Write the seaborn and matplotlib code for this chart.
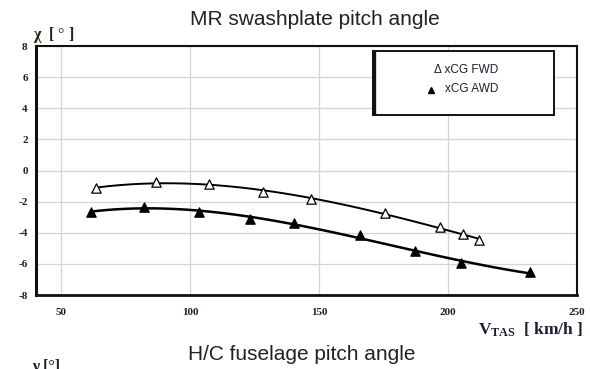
import numpy as np
import pandas as pd
import matplotlib
matplotlib.use("Agg")
import matplotlib.pyplot as plt
from matplotlib.patches import Rectangle
import seaborn as sns

# Swashplate pitch angle vs true airspeed, two CG positions
v_fwd = [63.6, 86.8, 107.5, 128.3, 147.0, 175.7, 196.9, 205.8, 212.0]
chi_fwd = [-1.15, -0.72, -0.89, -1.36, -1.83, -2.75, -3.65, -4.10, -4.45]
v_awd = [61.7, 82.2, 103.6, 123.2, 140.2, 166.0, 187.3, 204.9, 231.9]
chi_awd = [-2.65, -2.35, -2.65, -3.10, -3.40, -4.15, -5.20, -5.95, -6.55]
series_labels = ["\u0394 xCG FWD", "xCG AWD"]
x_ticks = [50, 100, 150, 200, 250]
y_ticks = [-8, -6, -4, -2, 0, 2, 4, 6, 8]

df_fwd = pd.DataFrame({"v": v_fwd, "chi": chi_fwd})
df_awd = pd.DataFrame({"v": v_awd, "chi": chi_awd})

sns.set_theme(style="white")
plt.rcParams["font.family"] = ["Liberation Sans", "DejaVu Sans"]
plt.rcParams["axes.unicode_minus"] = False
plt.rcParams["mathtext.fontset"] = "custom"
plt.rcParams["mathtext.rm"] = "Liberation Serif"
plt.rcParams["mathtext.bf"] = "Liberation Serif:bold"

fig = plt.figure(figsize=(5.9, 3.69), dpi=100)
ax = fig.add_axes([0.061, 0.2005, 0.917, 0.6748])

ink = "#1a1f33"

# Cubic trend curves through each series
sns.regplot(data=df_fwd, x="v", y="chi", order=3, ci=None, scatter=False,
            ax=ax, line_kws=dict(color="black", lw=1.4), truncate=True)
sns.regplot(data=df_awd, x="v", y="chi", order=3, ci=None, scatter=False,
            ax=ax, line_kws=dict(color="black", lw=1.8), truncate=True)

# Measured points
sns.scatterplot(data=df_fwd, x="v", y="chi", marker="^", s=45,
                facecolor="white", edgecolor="black", linewidth=0.9, ax=ax, zorder=4)
sns.scatterplot(data=df_awd, x="v", y="chi", marker="^", s=45,
                color="black", edgecolor="black", linewidth=0.9, ax=ax, zorder=4)

ax.set_xlim(40.3, 250)
ax.set_ylim(-8, 8)
ax.set_xticks(x_ticks)
ax.set_yticks(y_ticks)
ax.set_xlabel("")
ax.set_ylabel("")
ax.grid(True, color="#d4d4d4", lw=0.9)
ax.set_axisbelow(True)

for side, sp in ax.spines.items():
    sp.set_visible(True)
    sp.set_color("#111111")
    sp.set_linewidth(1.5)
ax.spines["left"].set_linewidth(2.2)
ax.spines["bottom"].set_linewidth(2.0)

ax.tick_params(axis="both", direction="out", length=3, width=1.0, color="#111111",
               labelsize=8, pad=6)
ax.tick_params(axis="y", pad=3)
for lab in ax.get_xticklabels() + ax.get_yticklabels():
    lab.set_fontfamily("Liberation Serif")
    lab.set_fontweight("bold")
    lab.set_color(ink)

# Legend box
ax.add_patch(Rectangle((0.622, 0.723), 0.3355, 0.257, transform=ax.transAxes,
                       facecolor="white", edgecolor="#111111", lw=1.4, zorder=5))
ax.plot([0.624, 0.624], [0.726, 0.977], transform=ax.transAxes, color="#111111",
        lw=2.4, zorder=6)
ax.text(0.854, 0.904, series_labels[0], transform=ax.transAxes, ha="right",
        va="center", fontsize=8.5, color=ink, zorder=6)
ax.text(0.854, 0.827, series_labels[1], transform=ax.transAxes, ha="right",
        va="center", fontsize=8.5, color=ink, zorder=6)
ax.plot([0.731], [0.822], transform=ax.transAxes, marker="^", ms=4.5,
        color="black", zorder=6)

# Titles and axis labels
fig.text(0.534, 0.932, "MR swashplate pitch angle", ha="center", va="baseline",
         fontsize=15, color="#222222")
fig.text(0.056, 0.905, r"$\mathbf{\chi}$  [ $\degree$ ]", ha="left", va="center",
         fontsize=11.5, fontfamily="Liberation Serif", fontweight="bold", color="#2a2215")
fig.text(0.900, 0.106, r"$\mathbf{V_{TAS}}$  [ km/h ]", ha="center", va="center",
         fontsize=12.5, fontfamily="Liberation Serif", fontweight="bold", color=ink)
fig.text(0.512, 0.0244, "H/C fuselage pitch angle", ha="center", va="baseline",
         fontsize=15, color="#222222")
fig.text(0.054, 0.027, "\u03bd [\u00b0]", ha="left", va="top",
         fontsize=11.5, fontfamily="Liberation Serif", fontweight="bold", color=ink)

fig.savefig("out.png", dpi=100)
